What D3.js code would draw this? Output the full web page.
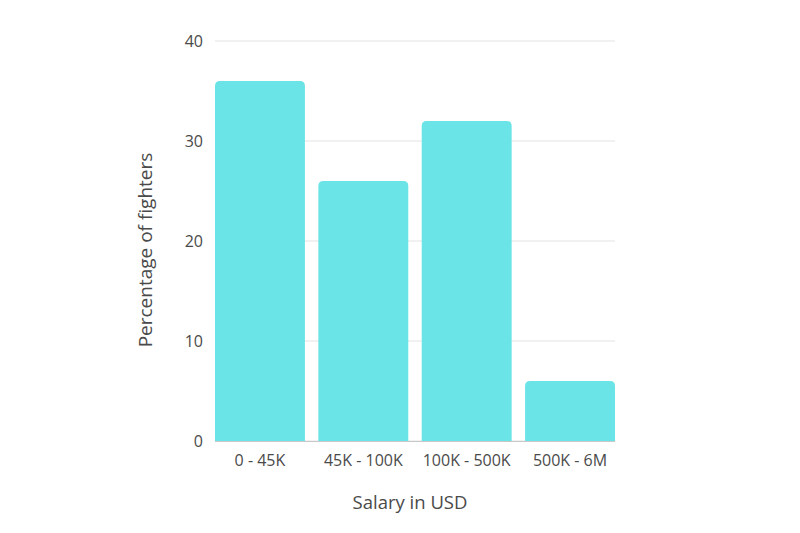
<!DOCTYPE html>
<html>
<head>
<meta charset="utf-8">
<script src="https://cdn.jsdelivr.net/npm/d3@7"></script>
<style>
  body { margin: 0; background: #fff; }
  text { font-family: "Open Sans", sans-serif; }
</style>
</head>
<body>
<svg id="chart"></svg>
<script>
const categories = ['0 - 45K', '45K - 100K', '100K - 500K', '500K - 6M']
const percentages = [36, 26, 32, 6]
const yTicks = [0, 10, 20, 30, 40]

const svgWidth = 800
const svgHeight = 533
const margin = { top: 41, right: 185, bottom: 92, left: 215 }

const svg = d3.select('#chart')
  .attr('width', svgWidth)
  .attr('height', svgHeight)

const innerW = svgWidth - margin.left - margin.right
const innerH = svgHeight - margin.top - margin.bottom

const g = svg.append('g')
  .attr('transform', `translate(${margin.left},${margin.top})`)

const x = d3.scaleBand()
  .domain(categories)
  .range([0, innerW])
  .paddingInner(0.13)
  .paddingOuter(0)

const y = d3.scaleLinear()
  .domain([0, 40])
  .range([innerH, 0])

// gridlines
g.selectAll('.grid')
  .data(yTicks)
  .join('line')
  .attr('x1', 0)
  .attr('x2', innerW)
  .attr('y1', d => y(d))
  .attr('y2', d => y(d))
  .attr('stroke', '#e3e3e3')
  .attr('stroke-width', 1)

// y tick labels
g.selectAll('.ytick')
  .data(yTicks)
  .join('text')
  .attr('x', -12)
  .attr('y', d => y(d))
  .attr('dy', '0.35em')
  .attr('text-anchor', 'end')
  .attr('font-size', '16px')
  .attr('fill', '#4a4a4a')
  .text(d => d)

// bars with rounded top corners
const r = 5
g.selectAll('.bar')
  .data(percentages)
  .join('path')
  .attr('fill', '#6ae4e6')
  .attr('d', (d, i) => {
    const x0 = x(categories[i])
    const x1 = x0 + x.bandwidth()
    const yt = y(d)
    const yb = y(0)
    return `M${x0},${yb}V${yt + r}Q${x0},${yt} ${x0 + r},${yt}H${x1 - r}Q${x1},${yt} ${x1},${yt + r}V${yb}Z`
  })

// baseline
g.append('line')
  .attr('x1', 0)
  .attr('x2', innerW)
  .attr('y1', y(0) + 0.5)
  .attr('y2', y(0) + 0.5)
  .attr('stroke', '#c8c8c8')

// category labels
g.selectAll('.xtick')
  .data(categories)
  .join('text')
  .attr('x', d => x(d) + x.bandwidth() / 2)
  .attr('y', innerH + 25)
  .attr('text-anchor', 'middle')
  .attr('font-size', '16px')
  .attr('fill', '#4a4a4a')
  .text(d => d)

// axis titles
svg.append('text')
  .attr('x', margin.left + innerW / 2 - 5)
  .attr('y', 509)
  .attr('text-anchor', 'middle')
  .attr('font-size', '18.5px')
  .attr('fill', '#4a4a4a')
  .text('Salary in USD')

svg.append('text')
  .attr('transform', `translate(152,${margin.top + innerH / 2 + 9}) rotate(-90)`)
  .attr('text-anchor', 'middle')
  .attr('font-size', '19px')
  .attr('fill', '#4a4a4a')
  .text('Percentage of fighters')
</script>
</body>
</html>
